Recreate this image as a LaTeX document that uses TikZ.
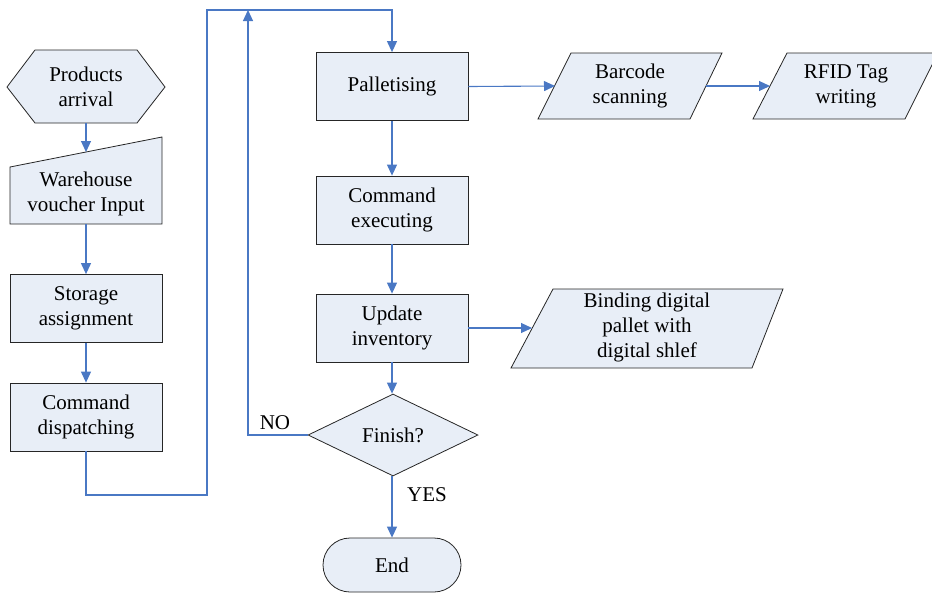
\documentclass[tikz,border=0pt]{standalone}
\usepackage{fontspec}
\setmainfont{Liberation Serif}
\usetikzlibrary{shapes.geometric,shapes.misc,arrows.meta}
\definecolor{boxfill}{HTML}{E8EEF7}
\definecolor{flow}{HTML}{4A78C4}
\begin{document}
\begin{tikzpicture}[x=1pt,y=-1pt,
  outline/.style={draw=black!85, fill=boxfill, line width=0.8pt},
  txt/.style={font=\fontsize{21}{25}\selectfont, align=center, inner sep=0pt},
  flowline/.style={draw=flow, line width=1.1pt},
  flowarrow/.style={flowline, -{Triangle[length=11pt,width=10pt]}},
  procbox/.style={outline, txt, rectangle, minimum width=152pt, minimum height=68pt}]
\useasboundingbox (0,0) rectangle (932,592);

% left column
\draw[outline] (7,87) -- (35,50) -- (137,50) -- (165,87) -- (137,123) -- (35,123) -- cycle;
\node[txt] (arrival) at (86,87) {Products\\arrival};
\coordinate (arrivalS) at (86,123);

\draw[outline] (10,167) -- (162,137) -- (162,224) -- (10,224) -- cycle;
\node[txt] (voucher) at (86,194) {Warehouse\\voucher Input};
\coordinate (voucherN) at (86,152);
\coordinate (voucherS) at (86,224);

\node[procbox] (storage) at (86,308.5) {Storage\\assignment};
\node[procbox] (dispatch) at (86,417) {Command\\dispatching};

% middle column
\node[procbox] (pallet) at (392,86.5) {Palletising};
\node[procbox] (execute) at (392,210) {Command\\executing};
\node[procbox] (update) at (392,328) {Update\\inventory};
\node[outline, txt, diamond, minimum width=170pt, minimum height=82pt] (finish) at (393,435) {Finish?};
\node[outline, txt, rounded rectangle, minimum width=138pt, minimum height=54pt] (end) at (392,565) {End};

% data shapes
\draw[outline] (571,53) -- (722,53) -- (690,119) -- (538,119) -- cycle;
\node[txt] (barcode) at (630,86) {Barcode\\scanning};
\coordinate (barcodeW) at (555,86);
\coordinate (barcodeE) at (706,86);

\draw[outline] (787,53) -- (938,53) -- (905,119) -- (753,119) -- cycle;
\node[txt] (rfid) at (846,86) {RFID Tag\\writing};
\coordinate (rfidW) at (770,86);

\draw[outline] (553,289) -- (783,289) -- (752,368) -- (511,368) -- cycle;
\node[txt] (binding) at (647,327) {Binding digital\\pallet with\\digital shlef};
\coordinate (bindingW) at (532,328);

% connectors
\coordinate (loopLow) at (207,495);
\coordinate (loopTop) at (207,10);
\coordinate (noTop) at (248,10);

\draw[flowarrow] (arrivalS) -- (voucherN);
\draw[flowarrow] (voucherS) -- (storage.north);
\draw[flowarrow] (storage.south) -- (dispatch.north);
\draw[flowarrow] (dispatch.south) |- (loopLow) -- (loopTop) -| (pallet.north);
\draw[flowarrow] (pallet.east) -- (barcodeW);
\draw[flowarrow] (barcodeE) -- (rfidW);
\draw[flowarrow] (pallet.south) -- (execute.north);
\draw[flowarrow] (execute.south) -- (update.north);
\draw[flowarrow] (update.east |- bindingW) -- (bindingW);
\draw[flowarrow] (update.south) -- (finish.north -| update.south);
\draw[flowarrow] (finish.west) -| (noTop);
\draw[flowarrow] (finish.south -| end.north) -- (end.north);

\node[txt] (no) at (275,423) {NO};
\node[txt] (yes) at (427,495) {YES};
\end{tikzpicture}
\end{document}
